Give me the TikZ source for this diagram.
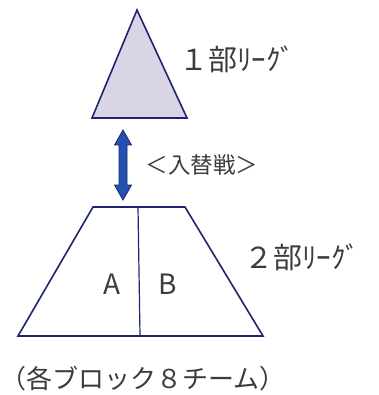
\documentclass[tikz,border=0pt]{standalone}
\usepackage{fontspec}
\setmainfont{Noto Sans CJK JP}
\usepackage{tikz}
\usetikzlibrary{shapes,positioning,calc}
\definecolor{navy}{HTML}{1E2470}
\definecolor{lavender}{HTML}{D9D5E6}
\definecolor{arrowblue}{HTML}{2152B0}
\definecolor{textgray}{HTML}{3C3C3C}
\tikzset{league/.style={draw=navy, line width=1.6pt, line join=miter}}
\tikzset{label/.style={text=textgray, inner sep=0pt, font=\fontsize{29}{29}\selectfont}}
\tikzset{block/.style={text=textgray, inner sep=0pt, font=\fontsize{28}{28}\selectfont}}
\tikzset{swaparrow/.style={fill=arrowblue, draw=navy, line width=0.8pt, line join=miter}}

\begin{document}
\begin{tikzpicture}[x=1pt, y=-1pt]
			\useasboundingbox (0,0) rectangle (378,395);
			
			\draw[league, fill=lavender] (137,10) -- (92,118) -- (187,118) -- cycle;
			
			\draw[league] (93,207) -- (185,207) -- (263,336) -- (18,336) -- cycle;
			\draw[draw=navy, line width=1.2pt] (138,207) -- (140,336);
			
			\coordinate (up) at (123,130);
			\coordinate (down) at (123,200);
			\draw[swaparrow] (up) -- ++(8.5,15) -- ++(-4.5,0) -- ++(0,40) -- ++(4.5,0) -- (down)
				-- ++(-8.5,-15) -- ++(4.5,0) -- ++(0,-40) -- ++(-4.5,0) -- cycle;
			
			\node[label] (first) at (237,59) {１部ﾘｰｸﾞ};
			\node[label, font=\fontsize{22.5}{22.5}\selectfont] (playoff) at (202,165) {＜入替戦＞};
			\node[label] (second) at (302,257) {２部ﾘｰｸﾞ};
			\node[block] (blockA) at (112,284) {A};
			\node[block] (blockB) at (168,284) {B};
			\node[label, font=\fontsize{26}{26}\selectfont] (note) at (143,379) {（各ブロック８チーム）};
		\end{tikzpicture}
\end{document}
